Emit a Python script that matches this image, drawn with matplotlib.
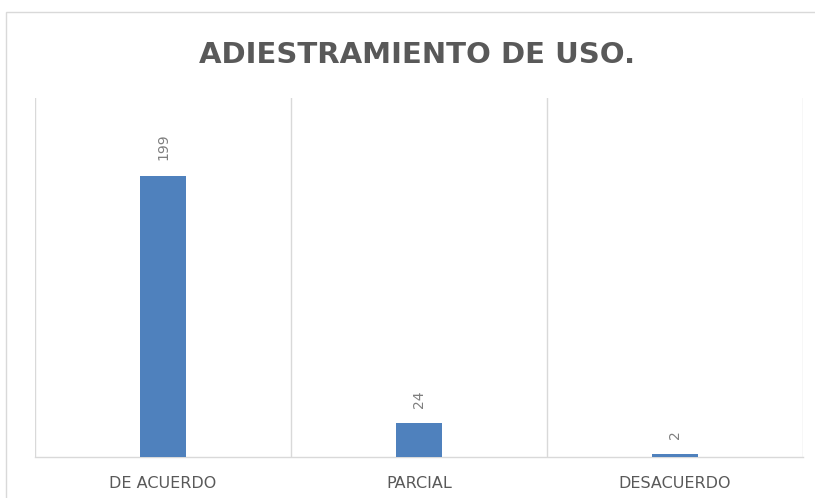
import matplotlib
matplotlib.use("Agg")
import matplotlib.pyplot as plt
from matplotlib.patches import Rectangle

categories = ["DE ACUERDO", "PARCIAL", "DESACUERDO"]
values = [199, 24, 2]
title = "ADIESTRAMIENTO DE USO."

W, H = 815, 498
fig = plt.figure(figsize=(W / 100, H / 100), dpi=100)
fig.patch.set_facecolor("white")

# chart frame (light gray border)
fig.patches.append(Rectangle((6 / W, -0.05), 1.2, (H - 12) / H + 0.05,
                             transform=fig.transFigure, fill=False,
                             edgecolor="#d9d9d9", linewidth=1.0))

ax = fig.add_axes([35 / W, 1 - 457 / H, (803 - 35) / W, (457 - 98) / H])
x = list(range(len(categories)))
bars = ax.bar(x, values, width=0.18, color="#4F81BD", zorder=3)

ax.set_xlim(-0.5, len(categories) - 0.5)
ax.set_ylim(0, 254)
for b in [i - 0.5 for i in range(len(categories) + 1)]:
    ax.axvline(b, color="#d9d9d9", linewidth=1.0, zorder=1)

for s in ["top", "left", "right"]:
    ax.spines[s].set_visible(False)
ax.spines["bottom"].set_color("#d9d9d9")
ax.spines["bottom"].set_linewidth(1.0)
ax.set_yticks([])
ax.set_xticks(x)
ax.set_xticklabels(categories, fontsize=11.5, color="#595959")
ax.tick_params(axis="x", length=0, pad=14)

for xi, v in zip(x, values):
    ax.annotate(str(v), (xi, v), xytext=(0, 11), textcoords="offset points",
                rotation=90, ha="center", va="bottom", fontsize=10,
                color="#7f7f7f")

fig.text(417 / W, 1 - 55 / H, title, ha="center", va="center",
         fontsize=21, fontweight="bold", color="#595959")

fig.savefig("out.png", dpi=100)
